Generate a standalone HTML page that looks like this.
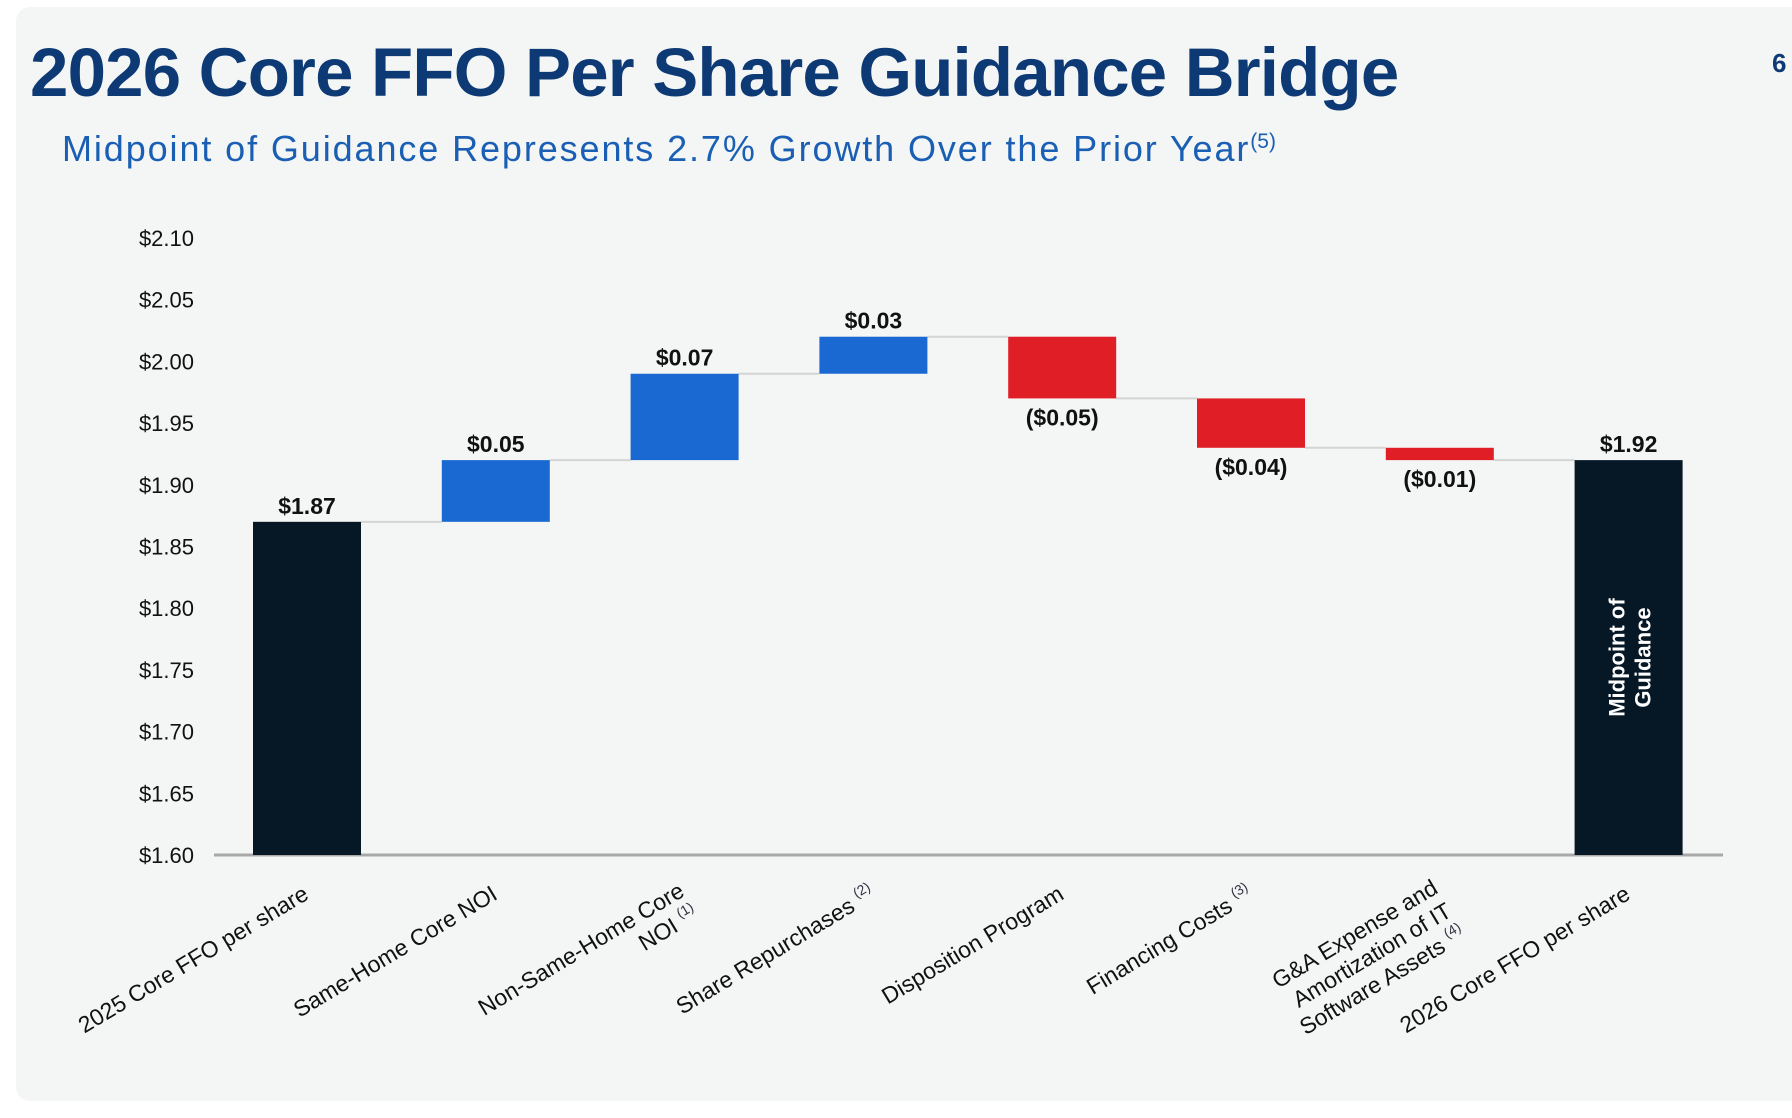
<!DOCTYPE html>
<html><head><meta charset="utf-8"><style>
html,body{margin:0;padding:0;background:#fff;}
body{width:1792px;height:1118px;overflow:hidden;font-family:"Liberation Sans",sans-serif;}
#panel{position:absolute;left:16px;top:7px;width:1800px;height:1094px;background:#f4f6f5;border-radius:14px;}
#title{position:absolute;left:30px;top:33px;font-size:69px;font-weight:bold;color:#0d3a75;letter-spacing:-0.8px;white-space:nowrap;}
#sub{position:absolute;left:62px;top:128px;font-size:36px;color:#1a5fb4;letter-spacing:1.9px;white-space:nowrap;}
#sub sup{font-size:21px;letter-spacing:0;}
#pg{position:absolute;left:1772px;top:48px;font-size:26px;font-weight:bold;color:#0d3a75;}
svg{position:absolute;left:0;top:0;}
</style></head><body>
<div id="panel"></div>
<div id="title">2026 Core FFO Per Share Guidance Bridge</div>
<div id="sub">Midpoint of Guidance Represents 2.7% Growth Over the Prior Year<sup>(5)</sup></div>
<div id="pg">6</div>
<svg id="chart" width="1792" height="1118"></svg>
<script>
const categories = ["2025 Core FFO per share","Same-Home Core NOI","Non-Same-Home Core|NOI","Share Repurchases","Disposition Program","Financing Costs","G&A Expense and|Amortization of IT|Software Assets","2026 Core FFO per share"];
const footnotes = ["","","(1)","(2)","","(3)","(4)",""];
const startValue = 1.87;
const deltas = [0.05, 0.07, 0.03, -0.05, -0.04, -0.01];
const endValue = 1.92;
const valueLabels = ["$1.87","$0.05","$0.07","$0.03","($0.05)","($0.04)","($0.01)","$1.92"];
const yTicks = [1.60,1.65,1.70,1.75,1.80,1.85,1.90,1.95,2.00,2.05,2.10];

const svg = document.getElementById('chart');
const NS = 'http://www.w3.org/2000/svg';
const yMin=1.60, yMax=2.10, yTop=238, yBot=855;
const y = v => yBot - (v-yMin)/(yMax-yMin)*(yBot-yTop);
const x0=307, step=188.8, bw=108;
const xc = i => x0 + i*step;
function mk(t,a,txt){const e=document.createElementNS(NS,t);for(const k in a)e.setAttribute(k,a[k]);if(txt!==undefined)e.textContent=txt;svg.appendChild(e);return e;}

yTicks.forEach(v=>{
  const t=mk('text',{x:194,y:y(v)+8,'text-anchor':'end','font-size':22,fill:'#111'},'$'+v.toFixed(2));
  
  
});
const ax=mk('line',{x1:214,x2:1723,y1:yBot,y2:yBot,stroke:'#a8a8a8','stroke-width':3});



const bars=[];
bars.push({lo:yMin,hi:startValue,color:'#061726',end:startValue});
let run=startValue;
deltas.forEach(d=>{const n=run+d;bars.push({lo:Math.min(run,n),hi:Math.max(run,n),color:d>=0?'#1a68d2':'#e01e26',end:n,neg:d<0});run=n;});
bars.push({lo:yMin,hi:endValue,color:'#061726',end:endValue});

for(let i=0;i<bars.length-1;i++){
  const c=mk('line',{x1:xc(i)+bw/2,x2:xc(i+1)-bw/2,y1:y(bars[i].end),y2:y(bars[i].end),stroke:'#d4d4d4','stroke-width':2});
  
  
}
bars.forEach((b,i)=>{
  const r=mk('rect',{x:xc(i)-bw/2,y:y(b.hi),width:bw,height:y(b.lo)-y(b.hi),fill:b.color});
  
  
  const ly = b.neg ? y(b.lo)+27 : y(b.hi)-8;
  const l=mk('text',{x:xc(i),y:ly,'text-anchor':'middle','font-size':23,'font-weight':'bold',fill:'#111'},valueLabels[i]);
  
  
});
const mid=mk('text',{transform:`translate(${xc(7)},${y(1.76)}) rotate(-90)`,'text-anchor':'middle','font-size':22,'font-weight':'bold',fill:'#fff'});


['Midpoint of','Guidance'].forEach((s,k)=>{const ts=document.createElementNS(NS,'tspan');ts.setAttribute('x',0);ts.setAttribute('dy',k?26:-4);ts.textContent=s;mid.appendChild(ts);});

categories.forEach((c,i)=>{
  const lines=c.split('|');
  const n=lines.length;
  const g=mk('text',{transform:`translate(${xc(i)},${yBot+38}) rotate(-31)`,'text-anchor':'end','font-size':23,fill:'#111'});
  
  
  lines.forEach((s,k)=>{
    const ts=document.createElementNS(NS,'tspan');
    ts.setAttribute('x', 0);
    ts.setAttribute('dy', k? 27 : -(n-1)*27/2+6+(n-1)*10);
    ts.textContent = (k===n-1 && footnotes[i]) ? s+' ' : s;
    g.appendChild(ts);
    if(k===n-1 && footnotes[i]){
      const f=document.createElementNS(NS,'tspan');f.setAttribute('font-size',14);f.setAttribute('dy',-10);f.setAttribute('fill','#334');f.textContent=footnotes[i];g.appendChild(f);
    }
  });
});
</script>
</body></html>
